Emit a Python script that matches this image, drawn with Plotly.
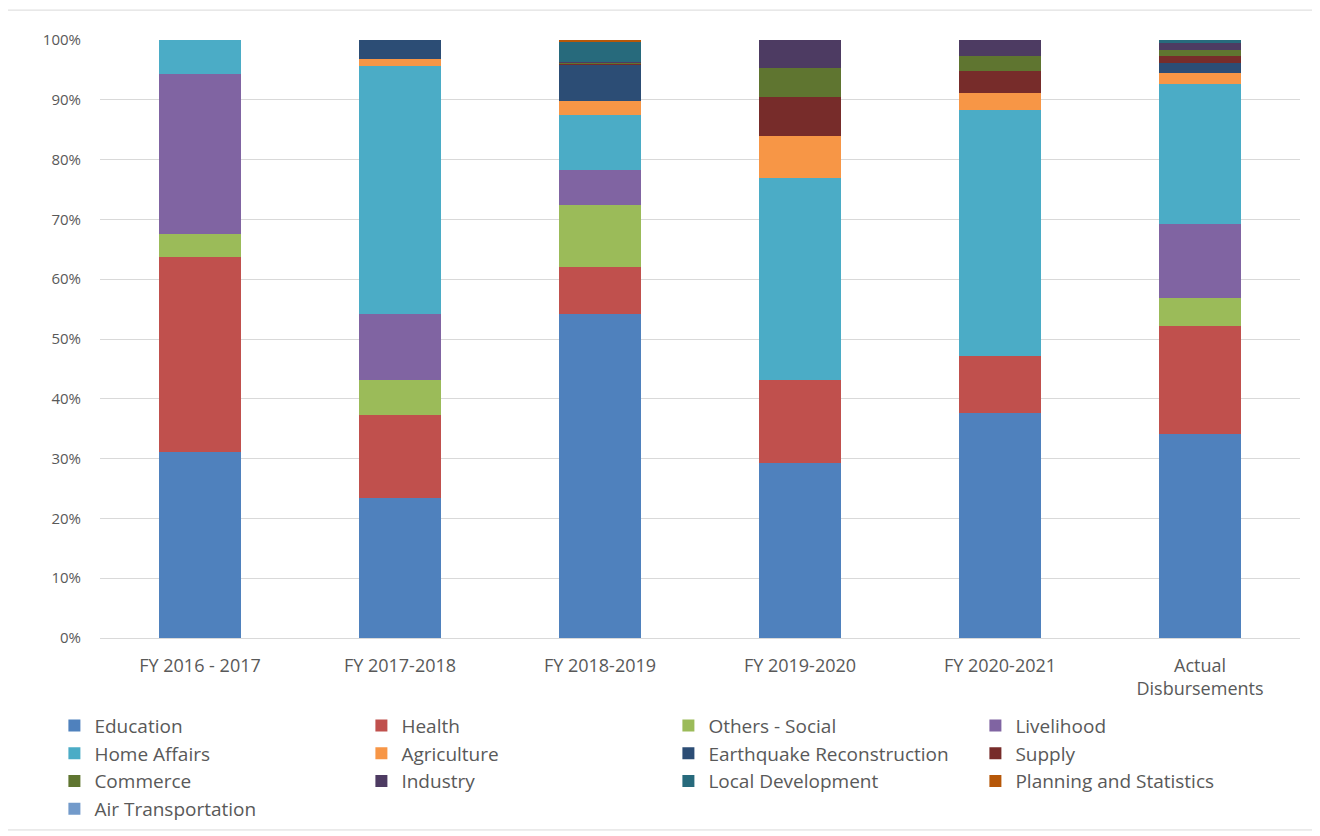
import plotly.graph_objects as go

categories = ["FY 2016 - 2017", "FY 2017-2018", "FY 2018-2019", "FY 2019-2020", "FY 2020-2021", "Actual<br>Disbursements"]

education = [31.1, 23.4, 54.2, 29.3, 37.6, 34.1]
health = [32.6, 13.9, 7.8, 13.8, 9.6, 18.1]
others_social = [3.9, 5.8, 10.4, 0.0, 0.0, 4.7]
livelihood = [26.7, 11.1, 5.9, 0.0, 0.0, 12.3]
home_affairs = [5.7, 41.5, 9.2, 33.8, 41.1, 23.4]
agriculture = [0.0, 1.1, 2.3, 7.0, 2.8, 1.9]
earthquake = [0.0, 3.2, 6.1, 0.0, 0.0, 1.6]
supply = [0.0, 0.0, 0.2, 6.5, 3.8, 1.2]
commerce = [0.0, 0.0, 0.1, 4.9, 2.5, 1.1]
industry = [0.0, 0.0, 0.1, 4.7, 2.6, 1.1]
local_dev = [0.0, 0.0, 3.5, 0.0, 0.0, 0.5]
planning = [0.0, 0.0, 0.2, 0.0, 0.0, 0.0]
air_transport = [0.0, 0.0, 0.0, 0.0, 0.0, 0.0]

series = [
    ("Education", education, "#4F81BD"),
    ("Health", health, "#C0504D"),
    ("Others - Social", others_social, "#9BBB59"),
    ("Livelihood", livelihood, "#8064A2"),
    ("Home Affairs", home_affairs, "#4BACC6"),
    ("Agriculture", agriculture, "#F79646"),
    ("Earthquake Reconstruction", earthquake, "#2C4D75"),
    ("Supply", supply, "#772C2A"),
    ("Commerce", commerce, "#5F7530"),
    ("Industry", industry, "#4D3B62"),
    ("Local Development", local_dev, "#276A7C"),
    ("Planning and Statistics", planning, "#B65708"),
    ("Air Transportation", air_transport, "#729ACA"),
]

fig = go.Figure()
for name, vals, color in series:
    fig.add_trace(go.Bar(
        x=categories, y=[v / 100 for v in vals], name=name,
        marker=dict(color=color, line=dict(width=0)),
    ))

fig.update_layout(
    barmode="stack",
    bargap=0.59,
    width=1312, height=828,
    margin=dict(l=92, r=20, t=32, b=198, autoexpand=False),
    paper_bgcolor="white", plot_bgcolor="white",
    font=dict(family="Open Sans, sans-serif", size=16, color="#595959"),
    legend=dict(
        orientation="h", x=-0.038, xanchor="left", y=-0.115, yanchor="top",
        entrywidth=262, entrywidthmode="pixels", traceorder="normal",
        font=dict(size=19, color="#595959"), itemclick=False,
        bgcolor="rgba(0,0,0,0)", tracegroupgap=0,
    ),
    xaxis=dict(showgrid=False, showline=False, ticks="", tickfont=dict(size=18),
               ticklabelstandoff=15),
    yaxis=dict(
        range=[0, 1], tickformat=".0%", dtick=0.1,
        showgrid=True, gridcolor="#D9D9D9", gridwidth=1,
        zeroline=True, zerolinecolor="#D9D9D9", zerolinewidth=1,
        showline=False, ticks="", tickfont=dict(size=15), ticklabelstandoff=18,
    ),
    shapes=[dict(type="rect", xref="paper", yref="paper",
                 x0=-0.0775, x1=1.0133, y0=-0.321, y1=1.050,
                 line=dict(color="#D9D9D9", width=1), fillcolor="rgba(0,0,0,0)")],
)

fig.write_html("out.html")
